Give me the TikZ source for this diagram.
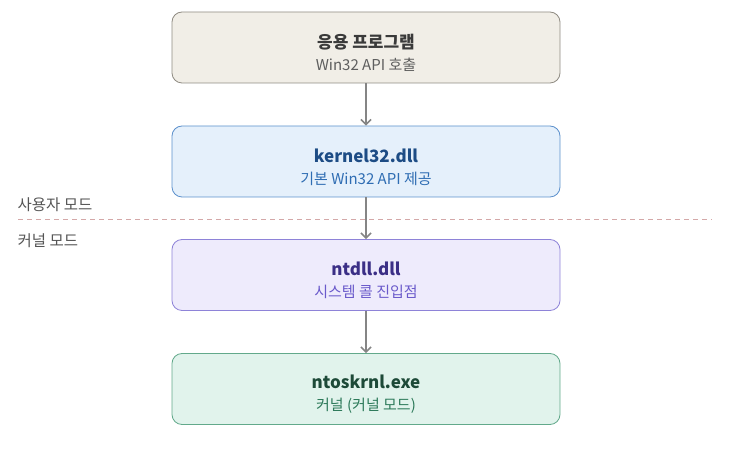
\documentclass[tikz,border=0pt]{standalone}
\usepackage{fontspec}
\setmainfont{Noto Sans CJK KR}
\usetikzlibrary{arrows.meta}

\definecolor{appfill}{HTML}{F1EEE7}
\definecolor{appline}{HTML}{8F8B82}
\definecolor{apptitle}{HTML}{3A3A3A}
\definecolor{appsub}{HTML}{5E5E5E}
\definecolor{kfill}{HTML}{E5F0FB}
\definecolor{kline}{HTML}{5C90CC}
\definecolor{ktitle}{HTML}{1D4C85}
\definecolor{ksub}{HTML}{2F6DB3}
\definecolor{nfill}{HTML}{EEEBFC}
\definecolor{nline}{HTML}{8E83D8}
\definecolor{ntitle}{HTML}{3B2F86}
\definecolor{nsub}{HTML}{6A5ACB}
\definecolor{osfill}{HTML}{E1F3EC}
\definecolor{osline}{HTML}{62A98B}
\definecolor{ostitle}{HTML}{1D4A38}
\definecolor{ossub}{HTML}{2D7A5A}
\definecolor{arrowgray}{HTML}{858585}
\definecolor{modeline}{HTML}{D4A8A8}
\definecolor{modetext}{HTML}{555555}

\begin{document}
\begin{tikzpicture}[x=1pt, y=1pt,
  layer/.style={draw, line width=0.8pt, rounded corners=10pt, minimum width=388pt, minimum height=71pt},
  title/.style={font=\fontsize{17}{19}\selectfont\bfseries},
  sub/.style={font=\fontsize{15}{17}\selectfont},
  call/.style={draw=arrowgray, line width=1.6pt, -{Straight Barb[length=5pt, width=10pt]}},
  mode/.style={font=\fontsize{15.5}{17}\selectfont, text=modetext, anchor=west}]
\useasboundingbox (0, 0) rectangle (729, 450);

% layers
\node [layer, fill=appfill, draw=appline] (app) at (366, 402.5) {};
\node [title, text=apptitle] (apptext) at (366, 408) {응용 프로그램};
\node [sub, text=appsub] (appsub) at (366, 385) {Win32 API 호출};

\node [layer, fill=kfill, draw=kline] (kernel) at (366, 288.5) {};
\node [title, text=ktitle] (ktext) at (366, 294) {kernel32.dll};
\node [sub, text=ksub] (ksubt) at (366, 271) {기본 Win32 API 제공};

\node [layer, fill=nfill, draw=nline] (ntdll) at (366, 175) {};
\node [title, text=ntitle] (ntext) at (366, 181) {ntdll.dll};
\node [sub, text=nsub] (nsubt) at (366, 158) {시스템 콜 진입점};

\node [layer, fill=osfill, draw=osline] (ntos) at (366, 61) {};
\node [title, text=ostitle] (ostext) at (366, 68) {ntoskrnl.exe};
\node [sub, text=ossub] (ossubt) at (366, 44) {커널 (커널 모드)};

% mode boundary
\coordinate (bl) at (18, 231);
\coordinate (br) at (712, 231);
\draw [modeline, line width=0.8pt, dash pattern=on 5pt off 4pt] (bl) -- (br);
\node [mode] (user) at (14, 245) {사용자 모드};
\node [mode] (kmode) at (14, 209) {커널 모드};

% calls
\draw [call] (app) -- (kernel);
\draw [call] (kernel) -- (ntdll);
\draw [call] (ntdll) -- (ntos);
\end{tikzpicture}
\end{document}
